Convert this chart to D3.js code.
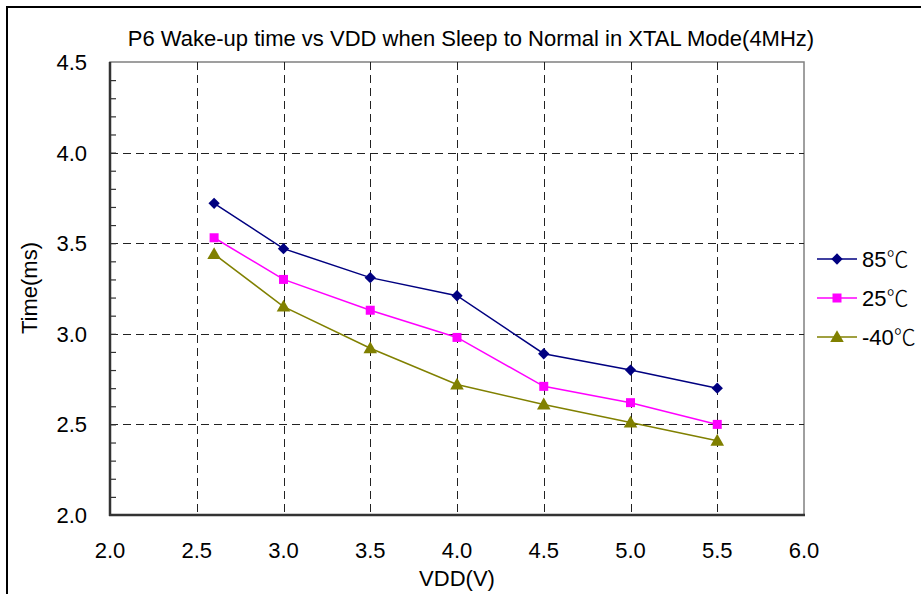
<!DOCTYPE html>
<html><head><meta charset="utf-8">
<script src="https://cdn.jsdelivr.net/npm/d3@7"></script>
<style>body{margin:0;background:#fff;} svg{display:block;}</style>
</head><body>
<svg id="c" width="921" height="594"></svg>
<script>
const vdd = [2.6, 3.0, 3.5, 4.0, 4.5, 5.0, 5.5];
const t85 = [3.72, 3.47, 3.31, 3.21, 2.89, 2.80, 2.70];
const t25 = [3.53, 3.30, 3.13, 2.98, 2.71, 2.62, 2.50];
const tm40 = [3.44, 3.15, 2.92, 2.72, 2.61, 2.51, 2.41];
const seriesTemps = ["85", "25", "-40"];
const unit = "℃";
const xTicks = [2.0, 2.5, 3.0, 3.5, 4.0, 4.5, 5.0, 5.5, 6.0];
const yTicks = [2.0, 2.5, 3.0, 3.5, 4.0, 4.5];
const yMinor = d3.range(21, 45).map(v => v / 10);
const colors = ["#000080", "#FF00FF", "#808000"];

const font = "'Liberation Sans', 'Noto Sans CJK SC', sans-serif";
const svg = d3.select("#c");
const L = 110, R = 804, T = 62, B = 515;
const x = d3.scaleLinear().domain([2, 6]).range([L, R]);
const y = d3.scaleLinear().domain([2, 4.5]).range([B, T]);

const markers = [
  d3.symbol().type(d3.symbolSquare).size(64),
  d3.symbol().type(d3.symbolSquare).size(81),
  d3.symbol().type(d3.symbolTriangle).size(80)
];
const rot = [45, 0, 0];
const dy = [0, 0, 1];

svg.append("rect").attr("x", 7).attr("y", 7).attr("width", 1000).attr("height", 1000)
  .attr("fill", "none").attr("stroke", "#000").attr("stroke-width", 2);

svg.append("rect").attr("x", L).attr("y", T).attr("width", R - L).attr("height", B - T)
  .attr("fill", "none").attr("stroke", "#808080").attr("stroke-width", 1.5);

const g = svg.append("g");
g.selectAll(".gx").data(xTicks.slice(1, -1)).join("line")
  .attr("x1", d => Math.round(x(d)) + 0.5).attr("x2", d => Math.round(x(d)) + 0.5)
  .attr("y1", T).attr("y2", B)
  .attr("stroke", "#222").attr("stroke-dasharray", "8,5").attr("stroke-width", 1);
g.selectAll(".gy").data(yTicks.slice(1, -1)).join("line")
  .attr("y1", d => Math.round(y(d)) + 0.5).attr("y2", d => Math.round(y(d)) + 0.5)
  .attr("x1", L).attr("x2", R)
  .attr("stroke", "#222").attr("stroke-dasharray", "8,5").attr("stroke-width", 1);

const yAxis = d3.axisLeft(y).tickValues(yMinor).tickSize(-6).tickFormat("");
const ya = svg.append("g").attr("transform", `translate(${L},0)`).call(yAxis);
ya.select(".domain").remove();
ya.selectAll("line").attr("stroke", "#333").attr("stroke-width", 1.2);
svg.append("line").attr("x1", L).attr("x2", L).attr("y1", T).attr("y2", B + 1)
  .attr("stroke", "#333").attr("stroke-width", 2.5);
svg.append("line").attr("x1", L - 1).attr("x2", R + 1).attr("y1", B).attr("y2", B)
  .attr("stroke", "#333").attr("stroke-width", 2.5);

svg.selectAll(".yl").data(yTicks).join("text")
  .attr("x", 87).attr("y", d => y(d) + 8).attr("text-anchor", "end")
  .attr("font-family", font).attr("font-size", 22).attr("fill", "#000")
  .text(d => d.toFixed(1));
svg.selectAll(".xl").data(xTicks).join("text")
  .attr("x", d => x(d)).attr("y", 558).attr("text-anchor", "middle")
  .attr("font-family", font).attr("font-size", 22).attr("fill", "#000")
  .text(d => d.toFixed(1));

svg.append("text").attr("x", 471).attr("y", 46).attr("text-anchor", "middle")
  .attr("font-family", font).attr("font-size", 22).text("P6 Wake-up time vs VDD when Sleep to Normal in XTAL Mode(4MHz)");
svg.append("text").attr("x", 457).attr("y", 586).attr("text-anchor", "middle")
  .attr("font-family", font).attr("font-size", 22).text("VDD(V)");
svg.append("text").attr("transform", "translate(37,288) rotate(-90)").attr("text-anchor", "middle")
  .attr("font-family", font).attr("font-size", 22).text("Time(ms)");

const series = [t85, t25, tm40];
const line = d3.line().x(d => x(d[0])).y(d => y(d[1]));
series.forEach((vals, i) => {
  const pts = vdd.map((v, j) => [v, vals[j]]);
  svg.append("path").attr("d", line(pts)).attr("fill", "none")
    .attr("stroke", colors[i]).attr("stroke-width", 1.5);
  svg.selectAll(".m" + i).data(pts).join("path")
    .attr("transform", d => `translate(${x(d[0])},${y(d[1]) + dy[i]}) rotate(${rot[i]})`)
    .attr("d", markers[i]())
    .attr("fill", colors[i]);
});

const ly = [259, 298, 337];
seriesTemps.forEach((n, i) => {
  svg.append("line").attr("x1", 817).attr("x2", 857).attr("y1", ly[i]).attr("y2", ly[i])
    .attr("stroke", colors[i]).attr("stroke-width", 1.5);
  svg.append("path").attr("transform", `translate(837,${ly[i] + dy[i]}) rotate(${rot[i]})`)
    .attr("d", markers[i]()).attr("fill", colors[i]);
  const t = svg.append("text").attr("x", 862).attr("y", ly[i] + 8)
    .attr("font-family", font).attr("font-size", 22);
  t.append("tspan").text(n);
  t.append("tspan").attr("font-family", "'Noto Sans CJK SC'").attr("font-weight", 300).text(unit);
});
</script>
</body></html>
